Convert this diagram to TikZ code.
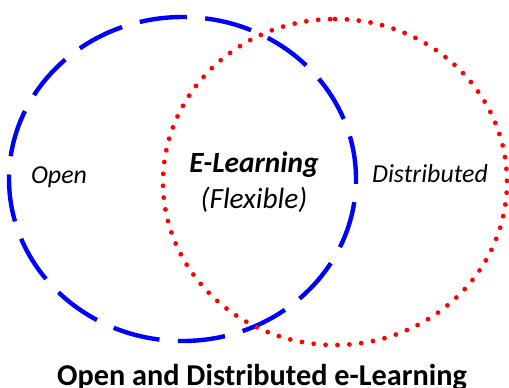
\documentclass[tikz,border=0pt]{standalone}
\usepackage{fontspec}
\setmainfont{Carlito}
\usepackage{tikz}
\usetikzlibrary{positioning}
\tikzset
{
    opencircle/.style = {draw=blue, line width=3.3pt, dash pattern=on 35.6pt off 13.8pt, dash phase=32pt},
    distcircle/.style = {draw=red, line width=3.6pt, line cap=round, dash pattern=on 0pt off 8.93pt},
    setlabel/.style   = {anchor=base, inner sep=0pt, font=\fontsize{19.4}{23}\selectfont\itshape},
    midlabel/.style   = {anchor=base, inner sep=0pt, font=\fontsize{22}{26}\selectfont\itshape},
    title/.style      = {anchor=base, inner sep=0pt, font=\fontsize{22.7}{27}\selectfont\bfseries}
}

\begin{document}
\begin{tikzpicture}[x=0.75pt, y=-0.75pt]
		\useasboundingbox (0,0) rectangle (509,387);
		% the two sets
		\draw[opencircle] (182.5,179) ellipse [x radius=173.5, y radius=162];
		\draw[distcircle, shift={(335,182)}, rotate=90] (0,0) ellipse [x radius=163, y radius=172];
		% labels
		\node (open)	[setlabel] 									at (59,183)       							{Open};
		\node (elearn)	[midlabel, font=\fontsize{22}{26}\selectfont\bfseries\itshape] at (254,172) 	{E-Learning};
		\node (flex)	[midlabel] 									at (254,208) 									{(Flexible)};
		\node (dist)	[setlabel]									at (430,182)									{Distributed};
		\node (caption)	[title] 										at (262,385)    							{Open and Distributed e-Learning};
	\end{tikzpicture}
\end{document}
